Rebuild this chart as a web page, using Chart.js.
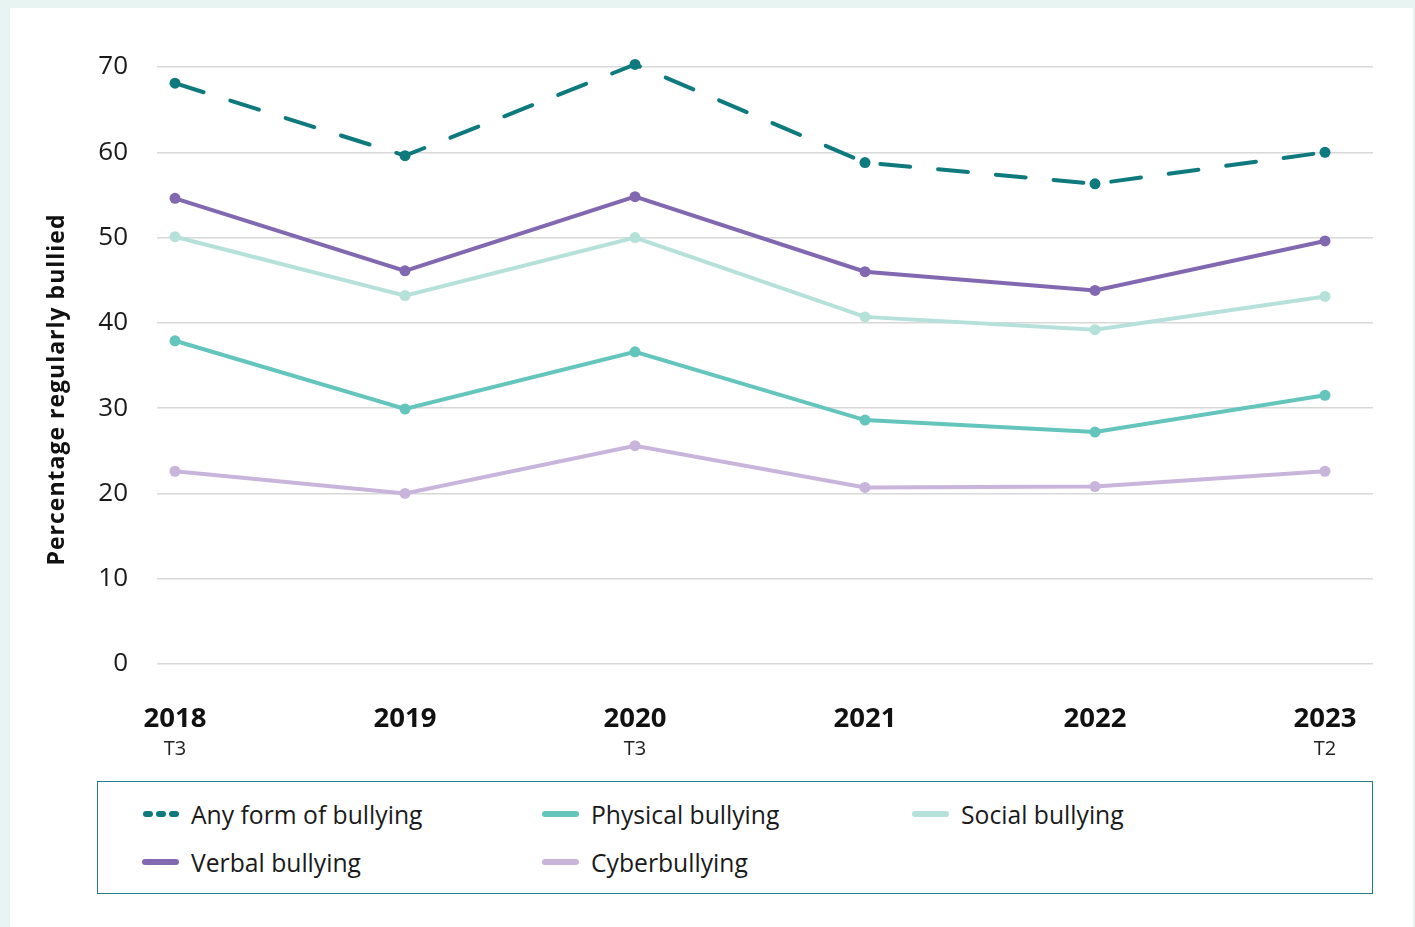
<!DOCTYPE html>
<html>
<head>
<meta charset="utf-8">
<script src="https://cdn.jsdelivr.net/npm/chart.js@4"></script>
<style>
  html, body { margin: 0; padding: 0; }
  body { background: #e8f4f1; width: 1415px; height: 927px; position: relative; overflow: hidden; font-family: 'Open Sans', sans-serif; }
  #panel { position: absolute; left: 10px; top: 8px; width: 1403px; height: 919px; background: #fff; }
  #wrap { position: absolute; left: 0; top: 0; width: 1403px; height: 764px; }
  #legend {
    position: absolute; left: 87px; top: 773px; width: 1274px; height: 111px;
    border: 1.5px solid #1f8187; box-sizing: content-box;
  }
  #legend ul {
    list-style: none; margin: 0; padding: 8px 0 0 44px;
    display: grid; grid-template-columns: 400px 370px auto; grid-auto-rows: 48px;
  }
  #legend li { display: flex; align-items: center; font-size: 24.7px; color: #1a1a1a; }
  #legend svg { margin-right: 11px; flex: none; }
</style>
</head>
<body>
<div id="panel">
  <div id="wrap"><canvas id="bullying"></canvas></div>
  <div id="legend"></div>
</div>
<script>
  const years = ['2018', '2019', '2020', '2021', '2022', '2023'];
  const terms = ['T3', '', 'T3', '', '', 'T2'];

  const anyForm  = [68.1, 59.6, 70.3, 58.8, 56.3, 60.0];
  const physical = [37.9, 29.9, 36.6, 28.6, 27.2, 31.5];
  const social   = [50.1, 43.2, 50.0, 40.7, 39.2, 43.1];
  const verbal   = [54.6, 46.1, 54.8, 46.0, 43.8, 49.6];
  const cyber    = [22.6, 20.0, 25.6, 20.7, 20.8, 22.6];

  const yTicks = [0, 10, 20, 30, 40, 50, 60, 70];

  const toPoints = arr => arr.map((v, i) => ({ x: i, y: v }));

  function series(label, values, color, dashed) {
    return {
      label: label,
      data: toPoints(values),
      borderColor: color,
      backgroundColor: color,
      borderWidth: 4,
      borderDash: dashed ? [30, 28] : [],
      borderCapStyle: 'round',
      pointRadius: 5.5,
      pointHoverRadius: 5.5,
      pointBorderWidth: 0,
      tension: 0,
      clip: false,
      dashed: dashed
    };
  }

  // legend is plain html, laid out as a 3-column grid
  const htmlLegend = {
    id: 'htmlLegend',
    afterUpdate(chart) {
      const box = document.getElementById('legend');
      const items = chart.data.datasets.map(ds => {
        const line = ds.dashed
          ? '<line x1="4" y1="4" x2="34" y2="4" stroke="' + ds.borderColor + '" stroke-width="6" stroke-linecap="round" stroke-dasharray="4 9"/>'
          : '<line x1="3" y1="4" x2="34" y2="4" stroke="' + ds.borderColor + '" stroke-width="6" stroke-linecap="round"/>';
        return '<li><svg width="38" height="8">' + line + '</svg>' + ds.label + '</li>';
      });
      box.innerHTML = '<ul>' + items.join('') + '</ul>';
    }
  };

  // rotated y title, placed a little below the middle of the plot
  const yTitle = {
    id: 'yTitle',
    afterDraw(chart) {
      const { ctx, chartArea } = chart;
      ctx.save();
      ctx.translate(chartArea.left - 100, (chartArea.top + chartArea.bottom) / 2 + 24);
      ctx.rotate(-Math.PI / 2);
      ctx.font = 'bold 23px "Open Sans"';
      ctx.letterSpacing = '1px';
      ctx.fillStyle = '#111';
      ctx.textAlign = 'center';
      ctx.textBaseline = 'middle';
      ctx.fillText('Percentage regularly bullied', 0, 0);
      ctx.restore();
    }
  };

  const xRange = { min: -18 / 230, max: 5 + 48 / 230 };
  const fixTicks = scale => { scale.ticks = years.map((_, i) => ({ value: i })); };

  new Chart(document.getElementById('bullying'), {
    type: 'line',
    plugins: [htmlLegend, yTitle],
    data: {
      datasets: [
        series('Any form of bullying', anyForm, '#0e7a7d', true),
        series('Physical bullying', physical, '#63c5bc', false),
        series('Social bullying', social, '#b6e1da', false),
        series('Verbal bullying', verbal, '#8268b1', false),
        series('Cyberbullying', cyber, '#c9b5db', false)
      ]
    },
    options: {
      responsive: true,
      maintainAspectRatio: false,
      animation: false,
      events: [],
      layout: { padding: { top: 59, right: 40, bottom: 10, left: 0 } },
      plugins: {
        legend: { display: false },
        tooltip: { enabled: false }
      },
      scales: {
        x: {
          type: 'linear',
          position: 'bottom',
          min: xRange.min,
          max: xRange.max,
          afterBuildTicks: fixTicks,
          afterFit: scale => { scale.height = 70; },
          grid: { display: false, drawTicks: false },
          border: { display: false },
          ticks: {
            autoSkip: false,
            maxRotation: 0,
            padding: 39,
            color: '#111',
            font: { family: 'Open Sans', size: 27.5, weight: 'bold' },
            callback: v => years[v]
          }
        },
        x2: {
          type: 'linear',
          position: 'bottom',
          min: xRange.min,
          max: xRange.max,
          afterBuildTicks: fixTicks,
          afterFit: scale => { scale.height = 28; },
          grid: { display: false, drawTicks: false },
          border: { display: false },
          ticks: {
            autoSkip: false,
            maxRotation: 0,
            padding: 3,
            color: '#222',
            font: { family: 'Open Sans', size: 20 },
            callback: v => terms[v] || ' '
          }
        },
        y: {
          min: 0,
          max: 70,
          afterBuildTicks: scale => { scale.ticks = yTicks.map(v => ({ value: v })); },
          afterFit: scale => { scale.width = 147; },
          grid: { color: '#d8d8d8', lineWidth: 1.5, drawTicks: false },
          border: { display: false },
          ticks: {
            padding: 29,
            color: '#1a1a1a',
            font: { family: 'Open Sans', size: 26 }
          }
        }
      }
    }
  });
</script>
</body>
</html>
